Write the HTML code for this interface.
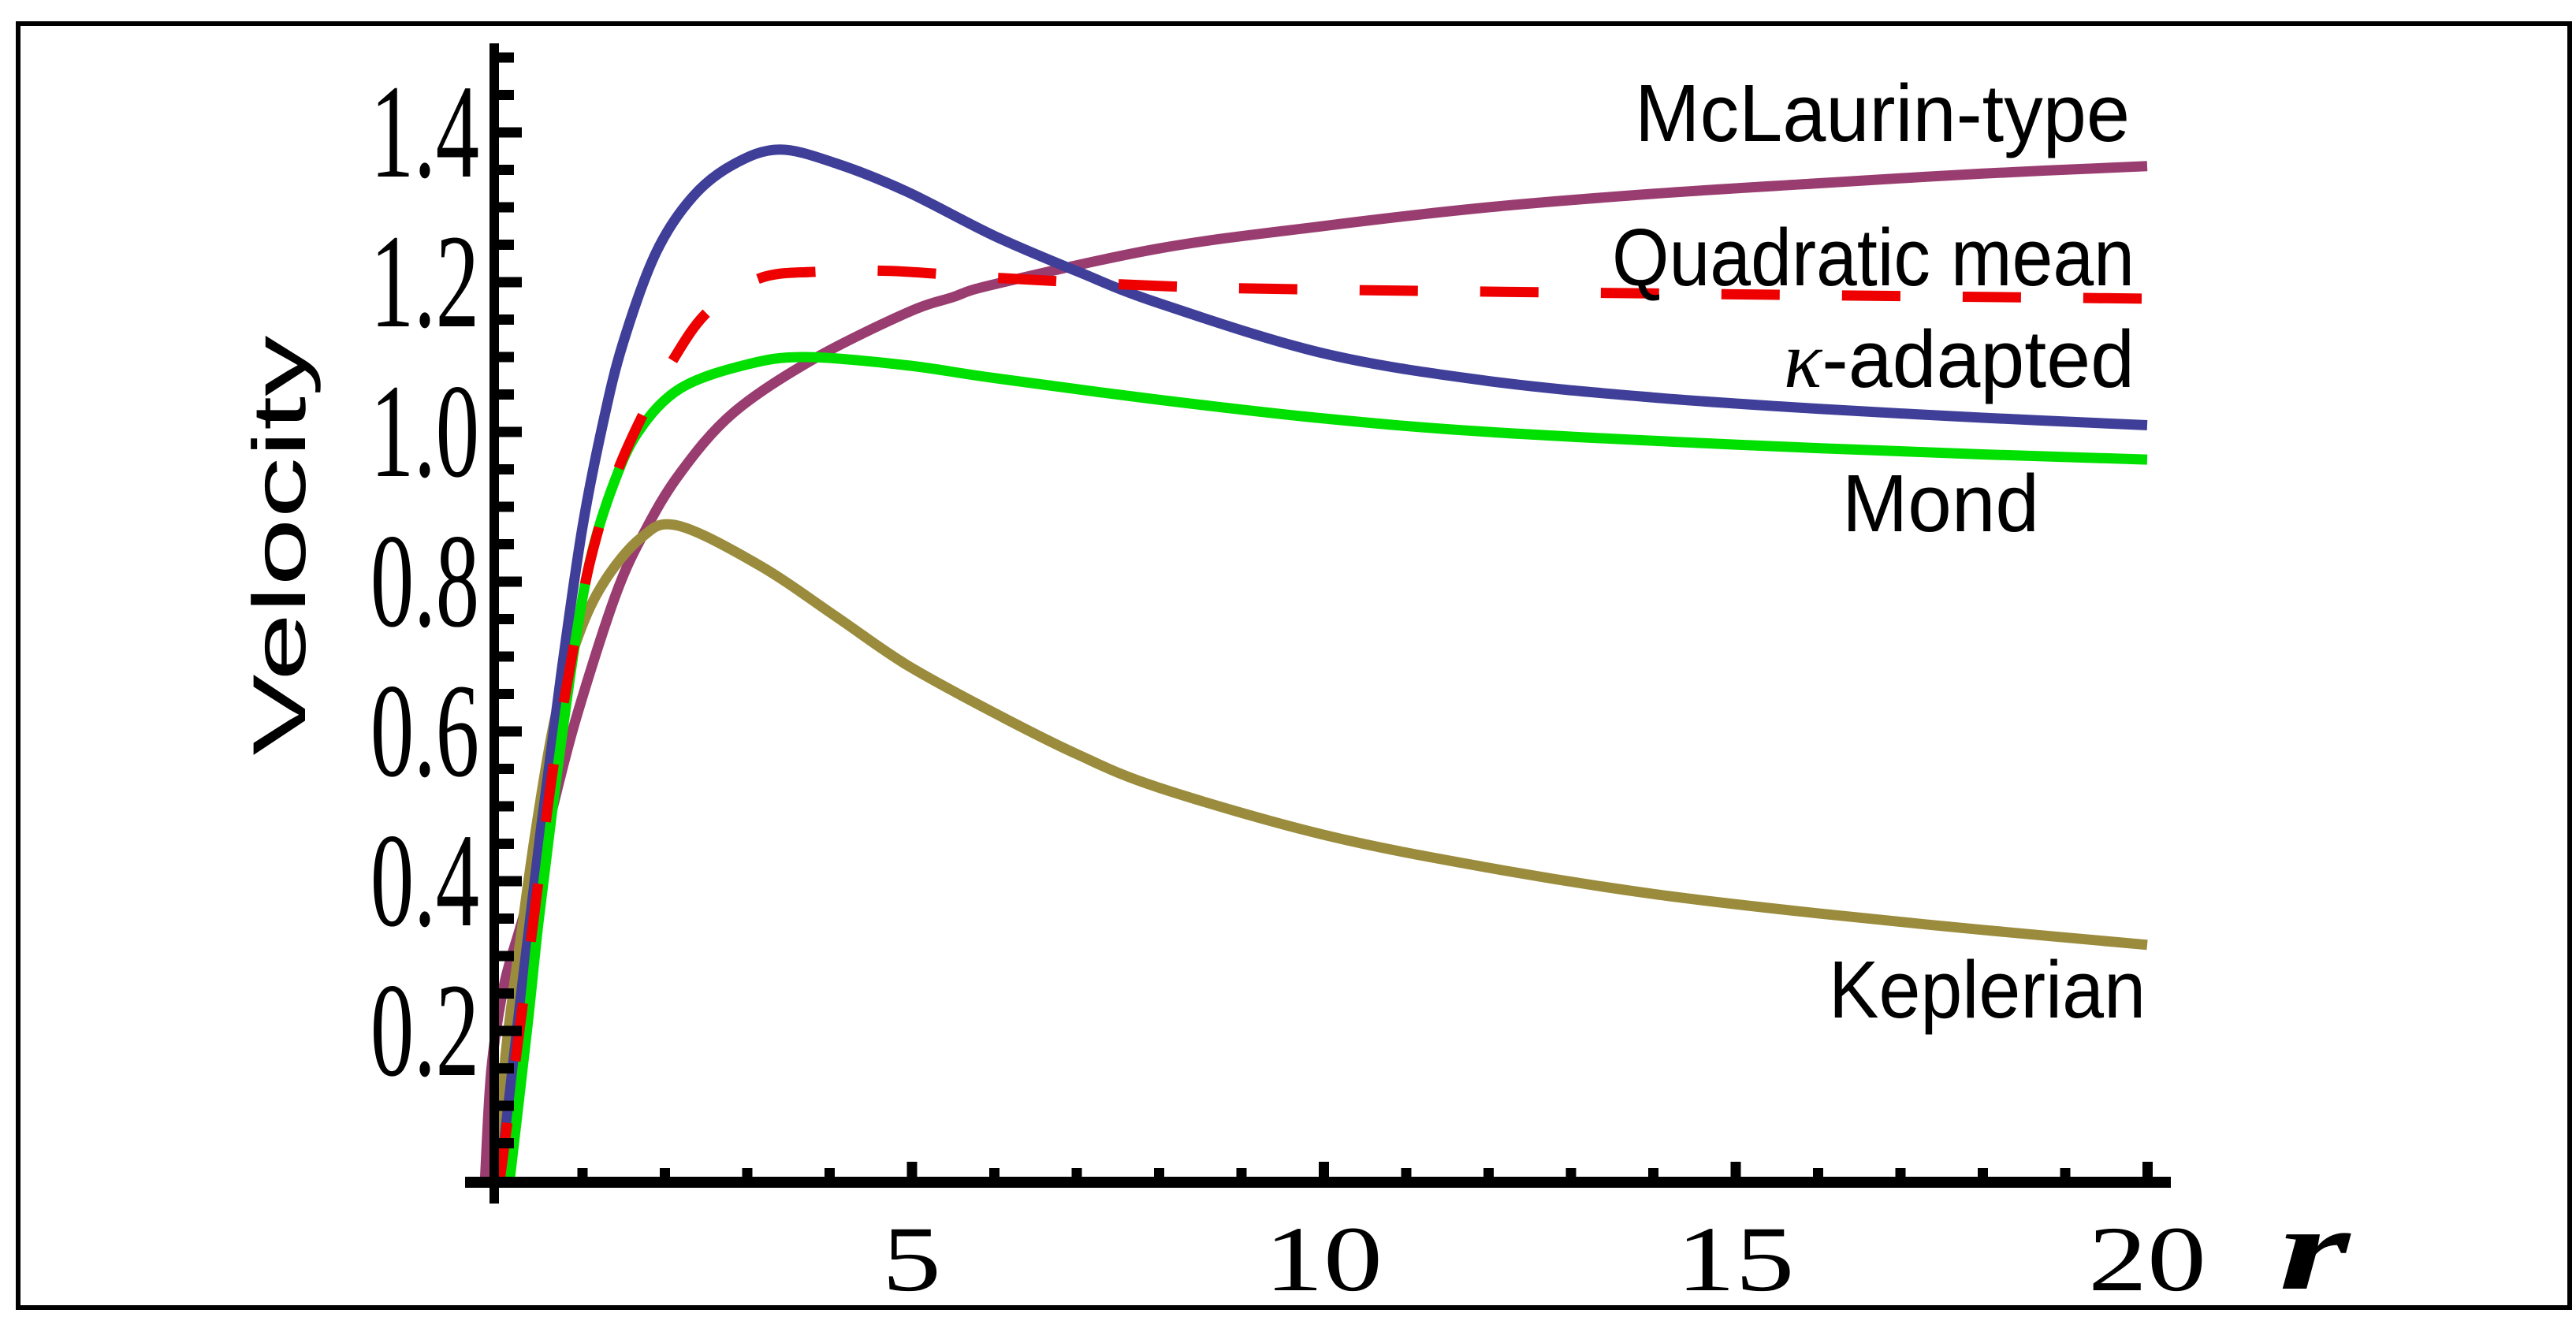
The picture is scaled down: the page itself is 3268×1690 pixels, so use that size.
<!DOCTYPE html>
<html><head><meta charset="utf-8"><style>
html,body{margin:0;padding:0;background:#fff;}
svg{display:block;}
</style></head><body>
<svg id="chart" xmlns="http://www.w3.org/2000/svg" width="3268" height="1690" viewBox="0 0 3268 1690">
<rect x="23" y="30" width="3237" height="1629" fill="#fff" stroke="#000" stroke-width="6"/>
<g id="series"></g>
<g id="axes"></g>
<text transform="rotate(-90)" x="-692" y="387" text-anchor="middle" font-family="Liberation Sans, sans-serif" font-size="95" textLength="533" lengthAdjust="spacingAndGlyphs">Velocity</text>
<text x="2891" y="1635" font-family="Liberation Serif, serif" font-style="italic" font-weight="bold" font-size="150" textLength="90" lengthAdjust="spacingAndGlyphs">r</text>
<g font-family="Liberation Sans, sans-serif" font-size="103">
<text x="2074" y="179" textLength="628" lengthAdjust="spacingAndGlyphs">McLaurin-type</text>
<text x="2045" y="362" textLength="663" lengthAdjust="spacingAndGlyphs">Quadratic mean</text>
<text x="2263" y="491" textLength="445" lengthAdjust="spacingAndGlyphs"><tspan font-family="Liberation Serif, serif" font-style="italic">κ</tspan>-adapted</text>
<text x="2337" y="674" textLength="250" lengthAdjust="spacingAndGlyphs">Mond</text>
<text x="2320" y="1291" textLength="402" lengthAdjust="spacingAndGlyphs">Keplerian</text>
</g>
</svg>
<script>
const xTicks = [5, 10, 15, 20];
const yTicks = [0.2, 0.4, 0.6, 0.8, 1.0, 1.2, 1.4];
const yTickLabels = ["0.2", "0.4", "0.6", "0.8", "1.0", "1.2", "1.4"];
const xTickLabels = ["5", "10", "15", "20"];

const kappaR = [0, 0.25, 0.5, 0.75, 1.0, 1.25, 1.5, 1.9, 2.35, 2.85, 3.4, 4.1, 4.94, 6, 7, 8, 10, 12, 14, 16, 18, 20];
const kappaV = [0, 0.24, 0.47, 0.68, 0.87, 1.01, 1.12, 1.24, 1.315, 1.358, 1.377, 1.358, 1.321, 1.262, 1.215, 1.172, 1.105, 1.068, 1.046, 1.031, 1.019, 1.009];

const mondR = [0.12, 0.34, 0.47, 0.65, 0.89, 1.1, 1.37, 1.68, 2.19, 3.0, 3.72, 4.94, 6, 8, 10, 12, 15, 18, 20];
const mondV = [0, 0.21, 0.345, 0.506, 0.70, 0.83, 0.927, 1.0, 1.058, 1.09, 1.1, 1.089, 1.072, 1.043, 1.018, 1.0, 0.983, 0.97, 0.963];

const mclR = [-0.18, -0.1, 0.05, 0.28, 0.6, 0.92, 1.4, 1.75, 2.19, 2.83, 3.79, 4.94, 5.5, 6, 8, 10, 12, 14, 16, 18, 20];
const mclV = [0, 0.15, 0.26, 0.35, 0.48, 0.615, 0.78, 0.865, 0.945, 1.025, 1.096, 1.159, 1.18, 1.197, 1.245, 1.275, 1.3, 1.318, 1.332, 1.345, 1.355];

const kepR = [0, 0.06, 0.28, 0.44, 0.66, 0.92, 1.24, 1.71, 2.16, 3.15, 4.1, 4.94, 6, 7, 8, 10, 12, 14, 16, 18, 20];
const kepV = [0, 0.156, 0.345, 0.47, 0.612, 0.717, 0.795, 0.858, 0.875, 0.822, 0.752, 0.689, 0.625, 0.57, 0.525, 0.462, 0.418, 0.383, 0.357, 0.335, 0.315];

const quadR = [0, 0.25, 0.44, 0.66, 0.95, 1.11, 1.37, 1.68, 2.07, 2.52, 3.15, 3.86, 4.75, 6, 8, 10, 14, 20];
const quadV = [0, 0.21, 0.374, 0.56, 0.745, 0.833, 0.93, 1.01, 1.09, 1.16, 1.205, 1.214, 1.215, 1.206, 1.195, 1.19, 1.185, 1.178];

const NS = "http://www.w3.org/2000/svg";
function X(r){ return 634 + 104.5 * r; }
function Y(v){ return 1498 - 950 * v; }

function mk(tag, attrs, parent){
  const e = document.createElementNS(NS, tag);
  for (const k in attrs) e.setAttribute(k, attrs[k]);
  parent.appendChild(e);
  return e;
}
function pathFrom(rs, vs){
  const p = rs.map((r,i)=>[X(r), Y(vs[i])]);
  let d = "M" + p[0][0].toFixed(1) + "," + p[0][1].toFixed(1);
  for (let i=0;i<p.length-1;i++){
    const p0 = p[i-1]||p[i], p1=p[i], p2=p[i+1], p3=p[i+2]||p[i+1];
    const c1x=p1[0]+(p2[0]-p0[0])/6, c1y=p1[1]+(p2[1]-p0[1])/6;
    const c2x=p2[0]-(p3[0]-p1[0])/6, c2y=p2[1]-(p3[1]-p1[1])/6;
    d += " C"+c1x.toFixed(1)+","+c1y.toFixed(1)+" "+c2x.toFixed(1)+","+c2y.toFixed(1)+" "+p2[0].toFixed(1)+","+p2[1].toFixed(1);
  }
  return d;
}
const sg = document.getElementById("series");
const ag = document.getElementById("axes");

let el;
el = mk("path", {d: pathFrom(mclR, mclV), fill:"none", stroke:"#993d70", "stroke-width":13}, sg);


el = mk("path", {d: pathFrom(kepR, kepV), fill:"none", stroke:"#9a8c3c", "stroke-width":13}, sg);


el = mk("path", {d: pathFrom(kappaR, kappaV), fill:"none", stroke:"#3f3f99", "stroke-width":13}, sg);


el = mk("path", {d: pathFrom(mondR, mondV), fill:"none", stroke:"#00e000", "stroke-width":13}, sg);


el = mk("path", {d: pathFrom(quadR, quadV), fill:"none", stroke:"#ee0000", "stroke-width":13, "stroke-dasharray":"74 79"}, sg);



el = mk("rect", {x:590, y:1493, width:2164, height:14, fill:"#000"}, ag);


el = mk("rect", {x:621, y:55, width:12, height:1472, fill:"#000"}, ag);



for (let r=1; r<=20; r++){
  const major = r % 5 === 0;
  el = mk("rect", {x:X(r)-6, y: major?1474:1482, width:13, height: major?22:14, fill:"#000"}, ag);
  
  
}
for (let k=1; k<=30; k++){
  const v = k*0.05;
  const major = k % 4 === 0;
  el = mk("rect", {x:630, y:Y(v)-6.5, width: major?32:22, height:13, fill:"#000"}, ag);
  
  
}
yTicks.forEach((v,i)=>{
  const t = mk("text", {x:0, y:0, "font-family":"Liberation Serif, serif", "font-size":170, "text-anchor":"end",
    transform:"translate(608,"+(Y(v)+56)+") scale(0.65,1)"}, ag);
  t.textContent = yTickLabels[i];
  
  
});
xTicks.forEach((r,i)=>{
  const t = mk("text", {x:0, y:0, "font-family":"Liberation Serif, serif", "font-size":118, "text-anchor":"middle",
    transform:"translate("+X(r)+",1637) scale(1.27,1)"}, ag);
  t.textContent = xTickLabels[i];
  
  
});
</script>
</body></html>
